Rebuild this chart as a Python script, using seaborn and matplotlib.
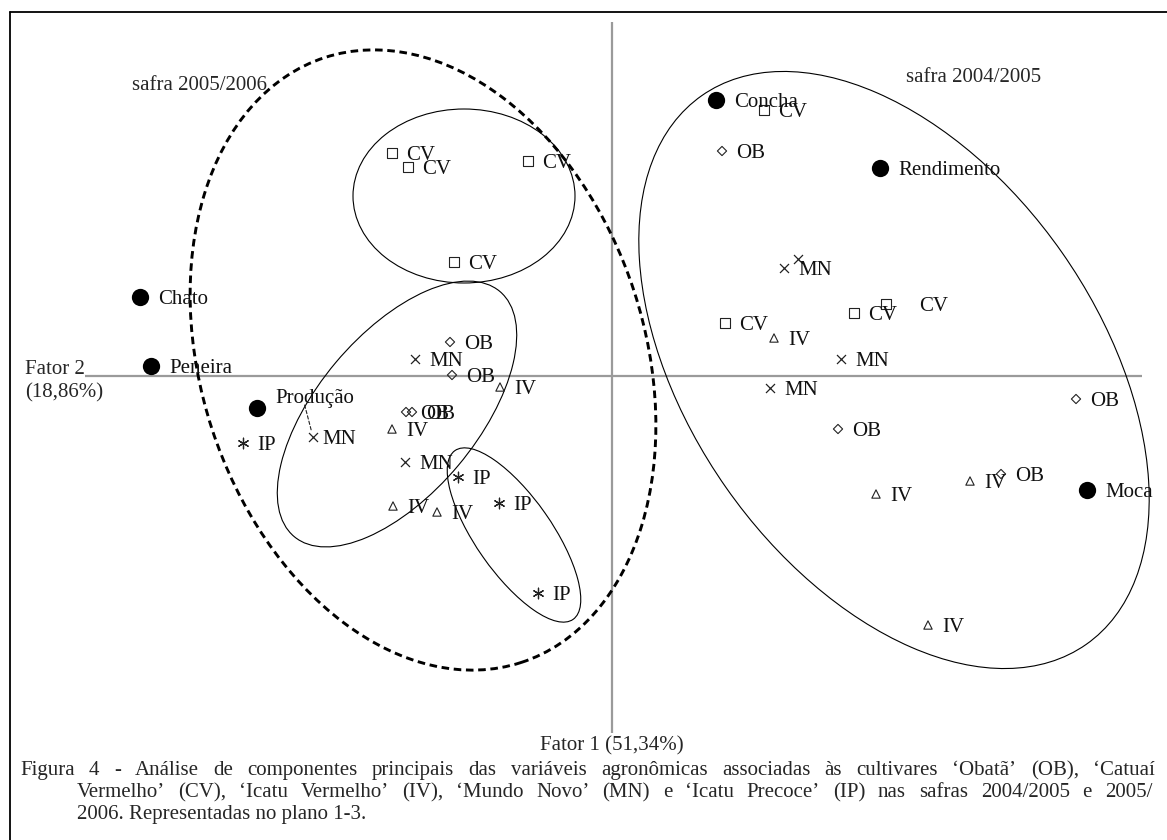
import matplotlib
matplotlib.use("Agg")
import matplotlib.pyplot as plt
from matplotlib.patches import Ellipse
from matplotlib.lines import Line2D
import seaborn as sns
import pandas as pd

sns.set_style("white")
plt.rcParams['font.family'] = ['Liberation Serif', 'DejaVu Serif']

# ---------------- data (scores on Fator 1 / Fator 2) ----------------
cv_x = [-2.20, -2.04, -0.84, -1.58, 1.52, 1.13, 2.42, 2.74]
cv_y = [2.23, 2.09, 2.15, 1.14, 2.66, 0.53, 0.63, 0.72]
ob_x = [-1.62, -1.60, -2.06, -2.00, 1.10, 4.64, 2.26, 3.89]
ob_y = [0.34, 0.01, -0.36, -0.36, 2.25, -0.23, -0.53, -0.98]
iv_x = [-1.12, -2.20, -2.19, -1.75, 1.62, 2.64, 3.58, 3.16]
iv_y = [-0.11, -0.53, -1.30, -1.36, 0.38, -1.18, -1.05, -2.49]
mn_x = [-1.97, -2.99, -2.07, 1.72, 1.86, 2.29, 1.58]
mn_y = [0.17, -0.61, -0.86, 1.08, 1.17, 0.17, -0.12]
ip_x = [-3.69, -1.54, -1.13, -0.74]
ip_y = [-0.67, -1.01, -1.27, -2.17]

var_names = ["Concha", "Rendimento", "Chato", "Peneira", "Produção", "Moca"]
var_x = [1.04, 2.68, -4.72, -4.61, -3.55, 4.75]
var_y = [2.76, 2.08, 0.79, 0.10, -0.32, -1.14]

# group ellipses: center x, center y, width, height, angle
ell_2005_2006 = (-1.89, 0.16, 4.44, 6.36, 18)
ell_cv = (-1.48, 1.80, 2.22, 1.74, 0)
ell_mid = (-2.15, -0.38, 3.20, 1.60, 50)
ell_ip = (-0.98, -1.59, 2.06, 0.76, -55)
ell_2004_2005 = (2.82, 0.06, 6.70, 4.10, -55)

caption = [
    "Figura 4 - Análise de componentes principais das variáveis agronômicas associadas às cultivares ‘Obatã’ (OB), ‘Catuaí",
    "Vermelho’ (CV), ‘Icatu Vermelho’ (IV), ‘Mundo Novo’ (MN) e ‘Icatu Precoce’ (IP) nas safras 2004/2005 e 2005/",
    "2006. Representadas no plano 1-3.",
]

rows = []
for code, xs, ys in [("CV", cv_x, cv_y), ("OB", ob_x, ob_y), ("IV", iv_x, iv_y),
                     ("MN", mn_x, mn_y), ("IP", ip_x, ip_y)]:
    for xv, yv in zip(xs, ys):
        rows.append({"cultivar": code, "f1": xv, "f2": yv})
df = pd.DataFrame(rows)

W, H = 1167, 840
fig = plt.figure(figsize=(W / 100, H / 100), dpi=100)
ax = fig.add_axes([0, 0, 1, 1])

# axes of the factorial plane
ax.vlines(0, -3.57, 3.54, color="#9a9a9a", lw=1.6, zorder=1)
ax.hlines(0, -5.27, 5.30, color="#9a9a9a", lw=1.6, zorder=1)

# ellipses
for (cx, cy, w, h, a), ls, lw in [(ell_2005_2006, (0, (2.6, 1.6)), 2.1),
                                  (ell_cv, "-", 0.8), (ell_mid, "-", 0.8),
                                  (ell_ip, "-", 0.8), (ell_2004_2005, "-", 0.8)]:
    ax.add_patch(Ellipse((cx, cy), w, h, angle=a, fill=False, ec="black",
                         lw=lw, ls=ls, zorder=2))

ink = "#222222"
styles = {"CV": ("s", 42, True), "OB": ("D", 22, True), "IV": ("^", 36, True),
          "MN": ("x", 42, False), "IP": ((6, 2, 0), 58, False)}
for code, (mk, sz, filled) in styles.items():
    sub = df[df.cultivar == code]
    if filled:
        sns.scatterplot(data=sub, x="f1", y="f2", marker=mk, s=sz, facecolor="none",
                        edgecolor=ink, linewidth=0.8, ax=ax, legend=False, zorder=3)
    else:
        sns.scatterplot(data=sub, x="f1", y="f2", marker=mk, s=sz, color=ink,
                        linewidth=0.9, ax=ax, legend=False, zorder=3)

# labels for cultivar points
lab_fs = 15
for i, r in df.iterrows():
    dx, dy = 10, -1.5
    txt = r.cultivar
    if r.cultivar == "CV" and r.f1 > 2.7:
        dx = 24
    if r.cultivar == "MN" and r.f1 > 1.8 and r.f2 > 1.1:
        txt = ""
    if r.cultivar == "MN" and r.f1 < -2.9:
        dx = 7
        ax.annotate("", xy=(r.f1, r.f2), xytext=(-6, 23), textcoords="offset points",
                    arrowprops=dict(arrowstyle="-", ls=(0, (3, 2)), lw=0.8, color=ink,
                                    shrinkA=0, shrinkB=4))
    ax.annotate(txt, (r.f1, r.f2), xytext=(dx, dy), textcoords="offset points",
                ha="left", va="center", fontsize=lab_fs, color="#111111", zorder=4)

# variables
sns.scatterplot(x=var_x, y=var_y, marker="o", s=155, color="black", edgecolor="black",
                linewidth=0, ax=ax, legend=False, zorder=4)
for name, xv, yv in zip(var_names, var_x, var_y):
    dy = 6.5 if name == "Produção" else -1.5
    ax.annotate(name, (xv, yv), xytext=(13, dy), textcoords="offset points",
                ha="left", va="center", fontsize=lab_fs, color="#111111", zorder=5)

ax.set_xlim(-6.12, 5.55)
ax.set_ylim(-4.64, 3.76)
ax.axis("off")


def fx(px):
    return px / W


def fy(py):
    return 1 - py / H


# frame
fig.add_artist(Line2D([fx(10), 1], [fy(12), fy(12)], color="black", lw=1.3))
fig.add_artist(Line2D([fx(10), fx(10)], [fy(12), 0], color="black", lw=1.3))

fig.text(fx(25), fy(369), "Fator 2", fontsize=lab_fs, ha="left", va="center")
fig.text(fx(25), fy(393), "(18,86%)", fontsize=lab_fs, ha="left", va="center")
fig.text(fx(612), fy(746), "Fator 1 (51,34%)", fontsize=lab_fs, ha="center", va="center")
fig.text(fx(132), fy(86), "safra 2005/2006", fontsize=lab_fs, ha="left", va="center")
fig.text(fx(906), fy(78), "safra 2004/2005", fontsize=lab_fs, ha="left", va="center")

# caption with justified lines (baseline aligned)
cap_fs = 15
renderer = fig.canvas.get_renderer()


def justified(text, x0, x1, y):
    words = text.split(" ")
    widths = []
    for w in words:
        t = fig.text(0, 0, w, fontsize=cap_fs)
        widths.append(t.get_window_extent(renderer).width)
        t.remove()
    gap = (x1 - x0 - sum(widths)) / (len(words) - 1)
    x = x0
    for w, wd in zip(words, widths):
        fig.text(fx(x), fy(y), w, fontsize=cap_fs, ha="left", va="baseline")
        x += wd + gap


justified(caption[0], 20, 1155, 775)
justified(caption[1], 77, 1152, 797)
fig.text(fx(77), fy(819), caption[2], fontsize=cap_fs, ha="left", va="baseline")

fig.savefig("out.png", dpi=100)
